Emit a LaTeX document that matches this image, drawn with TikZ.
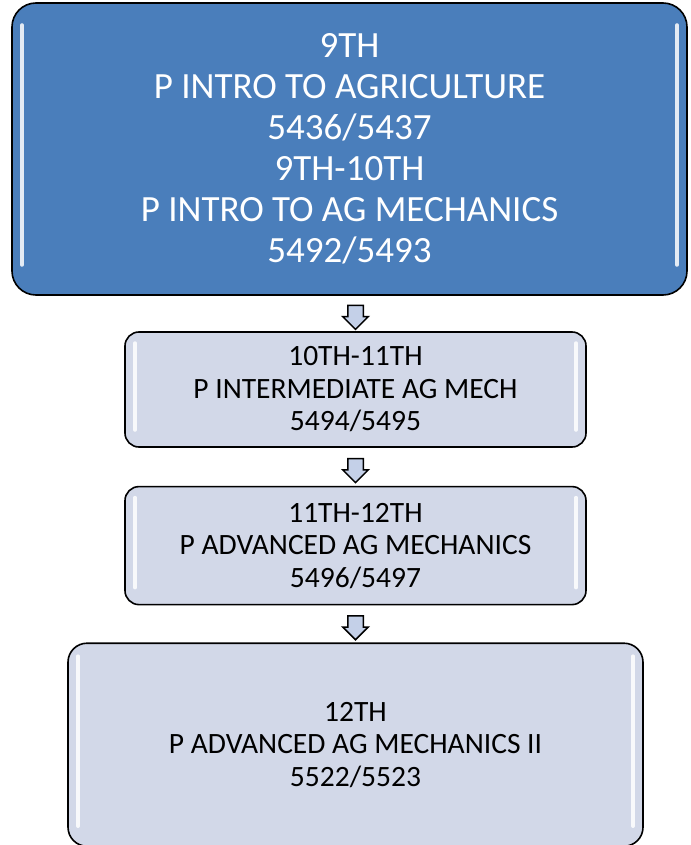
\documentclass[tikz,border=0pt]{standalone}
\usepackage{fontspec}
\setmainfont{Carlito}
\usepackage{xcolor}
\usetikzlibrary{calc}
\usetikzlibrary{shapes.arrows}
\usetikzlibrary{positioning}

\definecolor{stageblue}{HTML}{4A7EBB}
\definecolor{stagegrey}{HTML}{D2D8E8}
\definecolor{arrowfill}{HTML}{C4D0E8}

\tikzset{
  % white gloss streaks on the inner left and right sides
  gloss/.style 2 args={path picture={
      \draw[white, line width=3.5pt, line cap=round, opacity=0.85]
        ([xshift=10pt,yshift=-#1]path picture bounding box.north west) --
        ([xshift=10pt,yshift=#2]path picture bounding box.south west);
      \draw[white, line width=3.5pt, line cap=round, opacity=0.85]
        ([xshift=-10pt,yshift=-#1]path picture bounding box.north east) --
        ([xshift=-10pt,yshift=#2]path picture bounding box.south east);
    }},
  stagebox/.style={draw, line width=1.6pt, rounded corners=14pt, fill=stagegrey,
    text=black, align=center, inner sep=0pt, gloss={11pt}{17pt},
    font=\fontsize{29.5}{32.5}\selectfont},
  downarrow/.style={single arrow, draw, line width=1.5pt, fill=arrowfill,
    rotate=-90, inner xsep=0pt, inner ysep=7pt, minimum height=24pt,
    single arrow head extend=5pt, text width=0pt, text height=0pt, text depth=0pt}
}

\begin{document}
\begin{tikzpicture}
    \useasboundingbox (0,0) rectangle (690pt,-845pt);

    % Course boxes
    \node[stagebox, fill=stageblue, text=white, rounded corners=24pt,
          minimum width=675pt, minimum height=292pt, gloss={22pt}{30pt},
          font=\fontsize{37}{41}\selectfont] (intro) at (349.5pt,-149pt)
          {9TH\\P INTRO TO AGRICULTURE\\5436/5437\\9TH-10TH\\P INTRO TO AG MECHANICS\\5492/5493};

    \node[stagebox, minimum width=461pt, minimum height=115pt] (inter) at (355.5pt,-389.5pt)
          {10TH-11TH\\P INTERMEDIATE AG MECH\\5494/5495};

    \node[stagebox, minimum width=461pt, minimum height=118pt, below=38pt of inter] (adv)
          {11TH-12TH\\P ADVANCED AG MECHANICS\\5496/5497};

    \node[stagebox, rounded corners=19pt, minimum width=575pt, minimum height=203pt,
          gloss={13pt}{20pt}, below=37pt of adv] (advii)
          {12TH\\P ADVANCED AG MECHANICS II\\5522/5523};

    % Arrows between the stages
    \node[downarrow] (a1) at ($(intro.south -| inter.north)!0.5!(inter.north)$) {};
    \node[downarrow] (a2) at ($(inter.south)!0.5!(adv.north)$) {};
    \node[downarrow] (a3) at ($(adv.south)!0.5!(advii.north)$) {};

\end{tikzpicture}
\end{document}
